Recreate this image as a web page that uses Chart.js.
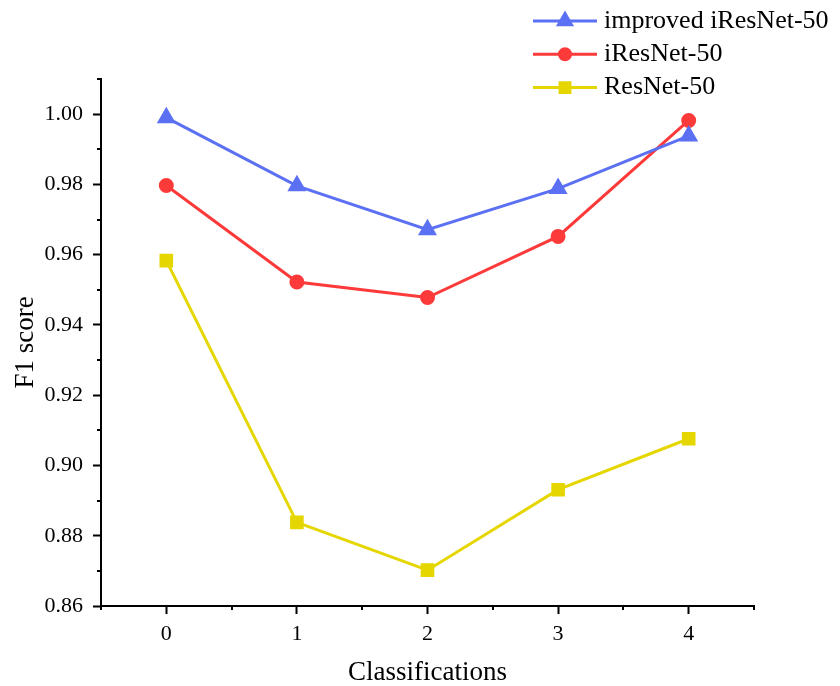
<!DOCTYPE html>
<html>
<head>
<meta charset="utf-8">
<script src="https://cdn.jsdelivr.net/npm/chart.js@4.4.0/dist/chart.umd.min.js"></script>
<style>
  body { margin: 0; background: #fff; }
</style>
</head>
<body>
<canvas id="myChart" width="840" height="686"></canvas>
<script>
// values
const classes = [0, 1, 2, 3, 4];
const improvedIResNet = [0.9990, 0.9796, 0.9671, 0.9788, 0.9938];
const iResNet = [0.9797, 0.9522, 0.9478, 0.9652, 0.9982];
const resNet = [0.9583, 0.8838, 0.8702, 0.8931, 0.9076];
const seriesNames = ['improved iResNet-50', 'iResNet-50', 'ResNet-50'];

const yMin = 0.86, yMax = 1.01, yStep = 0.01;
const xMin = -0.5, xMax = 4.5, xStep = 0.5;

Chart.defaults.font.family = 'Liberation Serif';
Chart.defaults.color = '#000';

const toPoints = (vals) => classes.map((c, i) => ({x: c, y: vals[i]}));

const isMajorY = (v) => Math.abs(Math.round(v * 100)) % 2 === 0;
const isMajorX = (v) => Math.abs(v - Math.round(v)) < 1e-6;

// minor ticks (shorter) + legend drawn by hand
const extrasPlugin = {
    id: 'extras',
    afterDraw(chart) {
        const ctx = chart.ctx;
        const area = chart.chartArea;
        const xs = chart.scales.x, ys = chart.scales.y;
        ctx.save();
        ctx.strokeStyle = '#000';
        ctx.lineWidth = 2;
        ys.ticks.forEach(function (t) {
            if (isMajorY(t.value)) return;
            let p = Math.round(ys.getPixelForValue(t.value));
            ctx.beginPath();
            ctx.moveTo(area.left - 4, p);
            ctx.lineTo(area.left, p);
            ctx.stroke();
        });
        xs.ticks.forEach(function (t) {
            if (isMajorX(t.value)) return;
            let p = Math.round(xs.getPixelForValue(t.value));
            ctx.beginPath();
            ctx.moveTo(p, area.bottom);
            ctx.lineTo(p, area.bottom + 4);
            ctx.stroke();
        });

        // legend
        chart.data.datasets.forEach(function (ds, i) {
            let y = 21 + i * 33.3;
            ctx.strokeStyle = ds.borderColor;
            ctx.lineWidth = 3;
            ctx.beginPath();
            ctx.moveTo(533, y);
            ctx.lineTo(597, y);
            ctx.stroke();
            ctx.fillStyle = ds.borderColor;
            Chart.helpers.drawPoint(ctx, {
                pointStyle: ds.pointStyle,
                radius: ds.pointRadius - 0.5,
                rotation: 0,
                borderWidth: 1
            }, 565, y);
            ctx.fillStyle = '#000';
            ctx.font = '26px "Liberation Serif"';
            ctx.textBaseline = 'middle';
            ctx.textAlign = 'left';
            ctx.fillText(ds.label, 604, y);
        });
        ctx.restore();
    }
};

const ctx = document.getElementById('myChart');
const myChart = new Chart(ctx, {
    type: 'line',
    data: {
        datasets: [{
            label: seriesNames[0],
            data: toPoints(improvedIResNet),
            borderColor: '#5b70f2',
            backgroundColor: '#5b70f2',
            pointStyle: 'triangle',
            pointRadius: 8,
            borderWidth: 3
        }, {
            label: seriesNames[1],
            data: toPoints(iResNet),
            borderColor: '#fd3a3a',
            backgroundColor: '#fd3a3a',
            pointStyle: 'circle',
            pointRadius: 6,
            borderWidth: 3
        }, {
            label: seriesNames[2],
            data: toPoints(resNet),
            borderColor: '#e5d600',
            backgroundColor: '#e5d600',
            pointStyle: 'rect',
            pointRadius: 7.5,
            borderWidth: 3
        }]
    },
    options: {
        responsive: false,
        animation: false,
        layout: {
            padding: {top: 79, right: 86, left: 0, bottom: 0}
        },
        plugins: {
            legend: {display: false},
            tooltip: {enabled: false}
        },
        elements: {
            point: {borderWidth: 1},
            line: {tension: 0}
        },
        scales: {
            x: {
                type: 'linear',
                min: xMin,
                max: xMax,
                afterFit: function (scale) { scale.height = 80; },
                border: {display: true, color: '#000', width: 2},
                grid: {
                    display: true,
                    drawOnChartArea: false,
                    drawTicks: true,
                    tickLength: 8,
                    tickWidth: 2,
                    tickColor: (c) => (c.tick && isMajorX(c.tick.value)) ? '#000' : 'rgba(0,0,0,0)'
                },
                ticks: {
                    stepSize: xStep,
                    autoSkip: false,
                    maxRotation: 0,
                    padding: 7,
                    font: {size: 22},
                    callback: (v) => isMajorX(v) ? String(Math.round(v)) : ''
                },
                title: {
                    display: true,
                    text: 'Classifications',
                    font: {size: 27, lineHeight: 1},
                    padding: {top: 0, bottom: 0}
                }
            },
            y: {
                min: yMin,
                max: yMax,
                afterFit: function (scale) { scale.width = 101; },
                border: {display: true, color: '#000', width: 2},
                grid: {
                    display: true,
                    drawOnChartArea: false,
                    drawTicks: true,
                    tickLength: 8,
                    tickWidth: 2,
                    tickColor: (c) => (c.tick && isMajorY(c.tick.value)) ? '#000' : 'rgba(0,0,0,0)'
                },
                ticks: {
                    stepSize: yStep,
                    maxTicksLimit: 50,
                    autoSkip: false,
                    padding: 10,
                    font: {size: 22},
                    callback: (v) => isMajorY(v) ? v.toFixed(2) : ''
                },
                title: {
                    display: true,
                    text: 'F1 score',
                    font: {size: 27, lineHeight: 1},
                    padding: {top: 12, bottom: 0}
                }
            }
        }
    },
    plugins: [extrasPlugin]
});
</script>
</body>
</html>
